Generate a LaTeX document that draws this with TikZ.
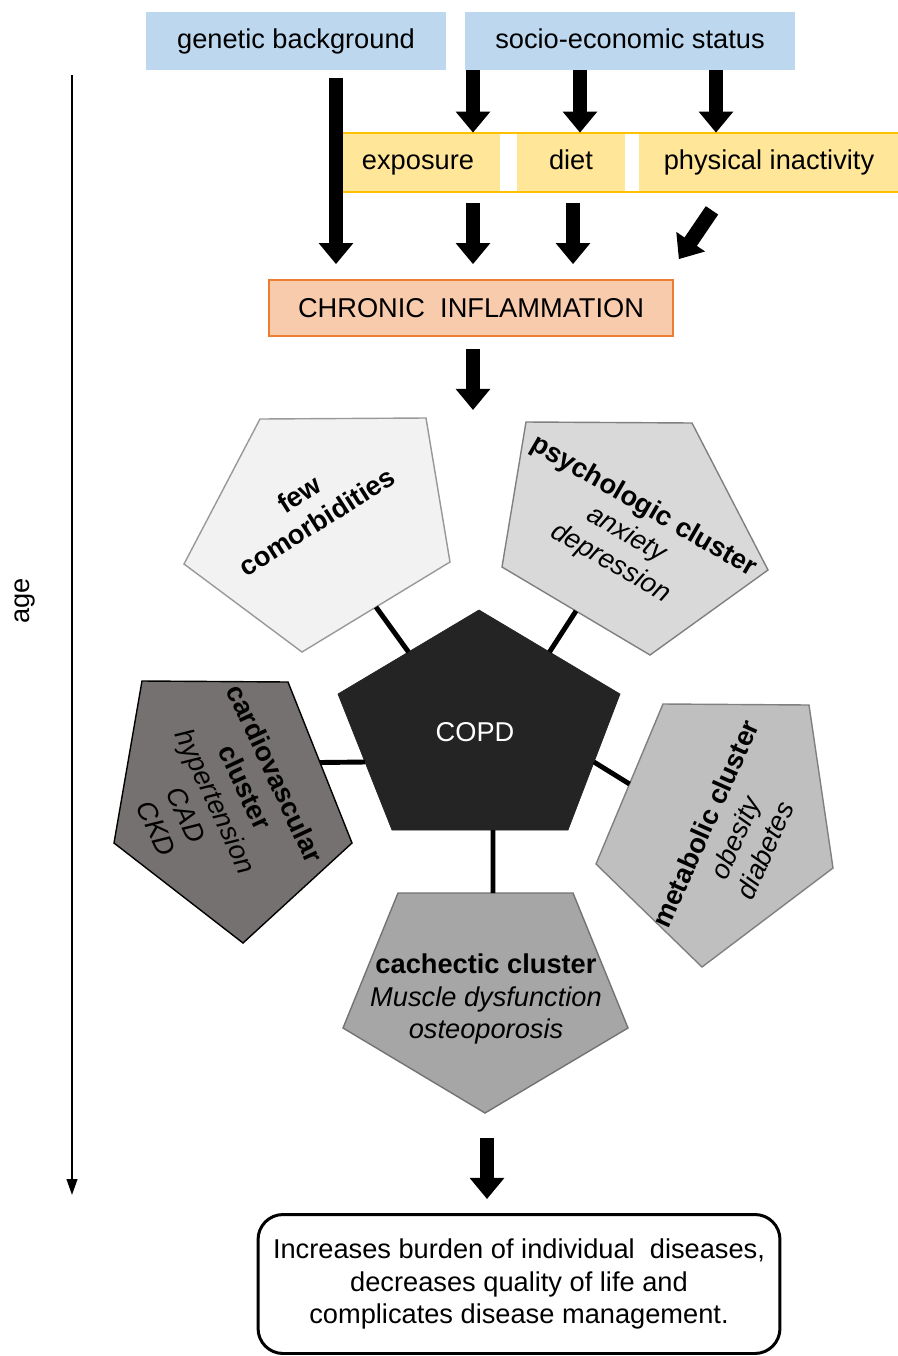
\documentclass[tikz,border=0pt]{standalone}
\usepackage{fontspec}
\setmainfont{Liberation Sans}
\usetikzlibrary{arrows.meta,calc}

\definecolor{boxblue}{HTML}{BDD7EE}
\definecolor{boxyellow}{HTML}{FFE699}
\definecolor{lineyellow}{HTML}{FFC000}
\definecolor{boxpeach}{HTML}{F8CBAD}
\definecolor{lineorange}{HTML}{ED7D31}
\definecolor{fewfill}{HTML}{F2F2F2}
\definecolor{psychfill}{HTML}{D9D9D9}
\definecolor{copdfill}{HTML}{242424}
\definecolor{cardiofill}{HTML}{767171}
\definecolor{metabfill}{HTML}{BFBFBF}
\definecolor{cachfill}{HTML}{A6A6A6}

\begin{document}
\begin{tikzpicture}[x=0.02cm,y=0.02cm,
  every node/.style={inner sep=0pt, font=\fontsize{15.5}{18.6}\selectfont},
  topbox/.style={fill=boxblue, minimum height=1.16cm, text height=11pt, text depth=3pt},
  factor/.style={fill=boxyellow, minimum height=1.18cm, text height=11pt, text depth=3pt},
  inflambox/.style={fill=boxpeach, draw=lineorange, line width=1pt, minimum width=8.08cm, minimum height=1.12cm},
  outcomebox/.style={draw, line width=1.7pt, rounded corners=0.5cm, minimum width=10.44cm, minimum height=2.78cm, align=center},
  bigarrow/.style={line width=8.5pt, -{Triangle[width=19pt,length=12pt]}},
  pent/.style={line width=0.8pt},
  spoke/.style={line width=2.8pt},
  clusterlabel/.style={align=center}]
\useasboundingbox (0,0) rectangle (898,-1356);

% causes
\node[topbox, minimum width=6cm] (genetic) at (296,-41) {genetic background};
\node[topbox, minimum width=6.6cm] (socio) at (630,-41) {socio-economic status};
\node[factor, minimum width=3.28cm] (exposure) at (418,-162.5) {exposure};
\node[factor, minimum width=2.16cm] (diet) at (571,-162.5) {diet};
\node[factor, minimum width=5.2cm] (inactivity) at (769,-162.5) {physical inactivity};
\draw[lineyellow, line width=1.2pt] (exposure.north west) rectangle (inactivity.south east);
\node[inflambox] (inflam) at (471,-308) {CHRONIC \ INFLAMMATION};

\draw[bigarrow] ($(genetic.south)+(40,-8)$) -- ($(inflam.north)+(-135,15)$);
\draw[bigarrow] ($(socio.south)+(-157,0)$) -- ($(exposure.north)+(55,0)$);
\draw[bigarrow] ($(socio.south)+(-50,0)$) -- ($(diet.north)+(9,0)$);
\draw[bigarrow] ($(socio.south)+(86,0)$) -- ($(inactivity.north)+(-53,0)$);
\draw[bigarrow] ($(exposure.south)+(55,-11)$) -- ($(inflam.north)+(2,15)$);
\draw[bigarrow] ($(diet.south)+(2,-11)$) -- ($(inflam.north)+(102,15)$);
\draw[bigarrow] ($(inactivity.south)+(-57,-18)$) -- ($(inflam.north east)+(5,20)$);
\coordinate (copdin) at (473,-410);
\draw[bigarrow] ($(inflam.south)+(2,-12)$) -- (copdin);

% comorbidity clusters
\draw[pent, draw=gray!80, fill=fewfill] (260,-419) coordinate (f1) -- (426,-418) coordinate (f2)
  -- (450,-562) coordinate (f3) -- (302,-652) coordinate (f4) -- (184,-564) coordinate (f5) -- cycle;
\draw[pent, draw=gray, fill=psychfill] (526,-422) coordinate (p1) -- (692,-423) coordinate (p2)
  -- (768,-570) coordinate (p3) -- (650,-655) coordinate (p4) -- (502,-567) coordinate (p5) -- cycle;
\draw[copdfill, fill=copdfill] (479,-610) coordinate (c1) -- (620,-694) coordinate (c2)
  -- (568,-830) coordinate (c3) -- (392,-830) coordinate (c4) -- (338,-694) coordinate (c5) -- cycle;
\draw[pent, draw=black, fill=cardiofill] (142,-681) coordinate (v1) -- (288,-682) coordinate (v2)
  -- (352,-843) coordinate (v3) -- (243,-943) coordinate (v4) -- (114,-843) coordinate (v5) -- cycle;
\draw[pent, draw=gray, fill=metabfill] (663,-704) coordinate (m1) -- (809,-705) coordinate (m2)
  -- (833,-868) coordinate (m3) -- (702,-967) coordinate (m4) -- (596,-864) coordinate (m5) -- cycle;
\draw[pent, draw=gray!90!black, fill=cachfill] (398,-893) coordinate (k1) -- (573,-893) coordinate (k2)
  -- (628,-1028) coordinate (k3) -- (485,-1113) coordinate (k4) -- (343,-1028) coordinate (k5) -- cycle;

\node[text=white] (copd) at (475,-732) {COPD};
\node[clusterlabel, rotate=32.5] (few) at (308,-508) {\textbf{few}\\\textbf{comorbidities}};
\node[clusterlabel, rotate=-30] (psych) at (627,-535) {\textbf{psychologic cluster}\\\textit{anxiety}\\\textit{depression}};
\node[clusterlabel, rotate=-65] (cardio) at (216,-801) {\textbf{cardiovascular}\\\textbf{cluster}\\\textit{hypertension}\\\textit{CAD}\\\textit{CKD}};
\node[clusterlabel, rotate=66] (metab) at (735,-837) {\textbf{metabolic cluster}\\\textit{obesity}\\\textit{diabetes}};
\node[clusterlabel] (cach) at (486,-999) {\textbf{cachectic cluster}\\\textit{Muscle dysfunction}\\\textit{osteoporosis}};

\draw[spoke] ($(f3)!.5!(f4)$) -- ($(c1)!.5!(c5)$);
\draw[spoke] ($(p4)!.5!(p5)$) -- ($(c1)!.5!(c2)$);
\draw[spoke] ($(v2)!.5!(v3)$) -- ($(c5)!.5!(c4)$);
\draw[spoke] ($(m1)!.5!(m5)$) -- ($(c2)!.5!(c3)$);
\draw[spoke] ($(k1)!.543!(k2)$) -- ($(c4)!.574!(c3)$);

% outcome
\node[outcomebox] (outcome) at (519,-1284) {Increases burden of individual \ diseases,\\decreases quality of life and\\complicates disease management.};
\draw[bigarrow] ($(k4)+(2,-25)$) -- ($(outcome.north)+(-32,14)$);

% age axis
\coordinate (agetop) at (72,-75);
\coordinate (agebottom) at (72,-1195);
\draw[line width=1.1pt, -{Triangle[width=6pt,length=9pt]}] (agetop) -- (agebottom);
\node[rotate=90] (age) at (25,-601) {age};
\end{tikzpicture}
\end{document}
